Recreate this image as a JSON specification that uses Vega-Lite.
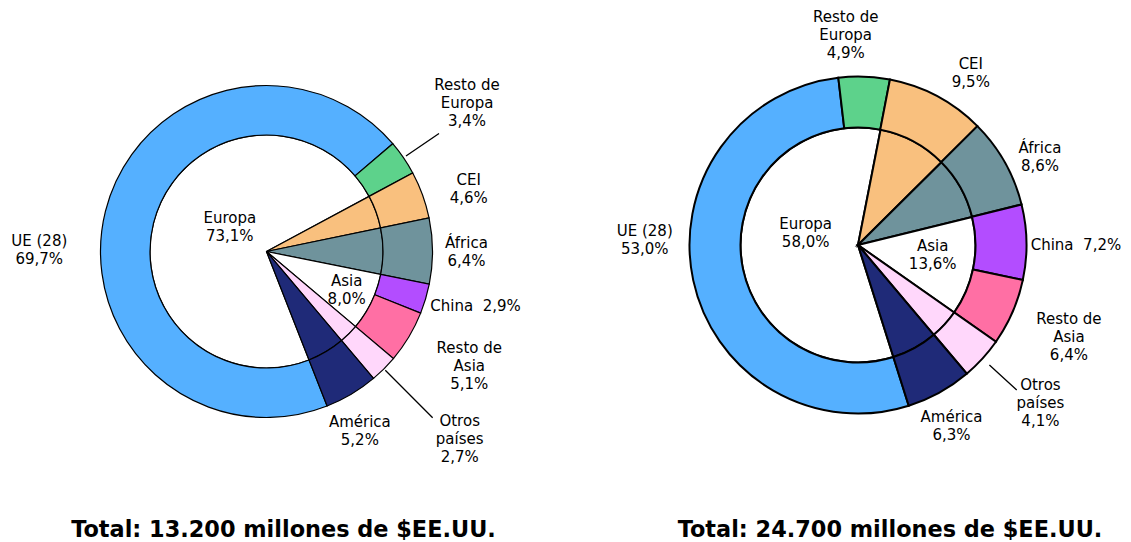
{
  "$schema": "https://vega.github.io/schema/vega-lite/v6.json",
  "padding": 0,
  "spacing": 52,
  "config": {"view": {"stroke": null}},
  "resolve": {"scale": {"theta": "independent"}},
  "datasets": {
    "leftOuter": [
      {"i": 1, "cat": "UE (28)", "v": 69.7, "label": "UE (28)\n69,7%"},
      {"i": 2, "cat": "Resto de Europa", "v": 3.4, "label": "Resto de\nEuropa\n3,4%"},
      {"i": 3, "cat": "CEI", "v": 4.6, "label": "CEI\n4,6%"},
      {"i": 4, "cat": "África", "v": 6.4, "label": "África\n6,4%"},
      {"i": 5, "cat": "China", "v": 2.9, "label": "China\u00a0 2,9%"},
      {"i": 6, "cat": "Resto de Asia", "v": 5.1, "label": "Resto de\nAsia\n5,1%"},
      {"i": 7, "cat": "Otros países", "v": 2.7, "label": "Otros\npaíses\n2,7%"},
      {"i": 8, "cat": "América", "v": 5.2, "label": "América\n5,2%"}
    ],
    "leftInner": [
      {"i": 1, "cat": "Europa", "v": 73.1, "label": "Europa\n73,1%"},
      {"i": 2, "cat": "CEI", "v": 4.6, "label": ""},
      {"i": 3, "cat": "África", "v": 6.4, "label": ""},
      {"i": 4, "cat": "Asia", "v": 8.0, "label": "Asia\n8,0%"},
      {"i": 5, "cat": "Otros países", "v": 2.7, "label": ""},
      {"i": 6, "cat": "América", "v": 5.2, "label": ""}
    ],
    "rightOuter": [
      {"i": 1, "cat": "UE (28)", "v": 53.0, "label": "UE (28)\n53,0%"},
      {"i": 2, "cat": "Resto de Europa", "v": 4.9, "label": "Resto de\nEuropa\n4,9%"},
      {"i": 3, "cat": "CEI", "v": 9.5, "label": "CEI\n9,5%"},
      {"i": 4, "cat": "África", "v": 8.6, "label": "África\n8,6%"},
      {"i": 5, "cat": "China", "v": 7.2, "label": "China\u00a0 7,2%"},
      {"i": 6, "cat": "Resto de Asia", "v": 6.4, "label": "Resto de\nAsia\n6,4%"},
      {"i": 7, "cat": "Otros países", "v": 4.1, "label": "Otros\npaíses\n4,1%"},
      {"i": 8, "cat": "América", "v": 6.3, "label": "América\n6,3%"}
    ],
    "rightInner": [
      {"i": 1, "cat": "Europa", "v": 58.0, "label": "Europa\n58,0%"},
      {"i": 2, "cat": "CEI", "v": 9.5, "label": ""},
      {"i": 3, "cat": "África", "v": 8.6, "label": ""},
      {"i": 4, "cat": "Asia", "v": 13.6, "label": "Asia\n13,6%"},
      {"i": 5, "cat": "Otros países", "v": 4.1, "label": ""},
      {"i": 6, "cat": "América", "v": 6.3, "label": ""}
    ]
  },
  "hconcat": [
    {
      "width": 533,
      "height": 503,
      "title": {"text": "Total: 13.200 millones de $EE.UU.", "orient": "bottom", "anchor": "middle", "dx": 17, "offset": 16, "fontSize": 22.4, "font": "DejaVu Sans", "fontWeight": "bold", "color": "black", "baseline": "top"},
      "layer": [
        {
          "data": {"name": "leftInner"},
          "mark": {"type": "arc", "innerRadius": 0, "outerRadius": 116.5, "stroke": "black", "strokeWidth": 1.2},
          "encoding": {
            "theta": {"field": "v", "type": "quantitative", "stack": "normalize", "scale": {"domain": [0, 1], "range": [2.768, 9.051]}},
            "order": {"field": "i", "type": "quantitative"},
            "color": {"field": "cat", "type": "nominal", "legend": null,
              "scale": {"domain": ["UE (28)", "Resto de Europa", "CEI", "África", "China", "Resto de Asia", "Otros países", "América", "Europa", "Asia"],
                        "range": ["#55B0FF", "#5DD28B", "#F9C07E", "#6F939C", "#B34DFF", "#FF6FA4", "#FFD7FB", "#1F2A78", "#FFFFFF", "#FFFFFF"]}}
          }
        },
        {
          "data": {"name": "leftOuter"},
          "mark": {"type": "arc", "innerRadius": 116.5, "outerRadius": 166, "stroke": "black", "strokeWidth": 1.2},
          "encoding": {
            "theta": {"field": "v", "type": "quantitative", "stack": "normalize", "scale": {"domain": [0, 1], "range": [2.768, 9.051]}},
            "order": {"field": "i", "type": "quantitative"},
            "color": {"field": "cat", "type": "nominal", "legend": null}
          }
        },
        {
          "data": {"name": "leftOuter"},
          "mark": {"type": "arc", "innerRadius": 169, "outerRadius": 209, "padAngle": 1.5, "fill": "white", "fillOpacity": 0, "stroke": "black", "strokeWidth": 1.3},
          "encoding": {
            "theta": {"field": "v", "type": "quantitative", "stack": "normalize", "scale": {"domain": [0, 1], "range": [2.768, 9.051]}},
            "order": {"field": "i", "type": "quantitative"},
            "strokeOpacity": {"condition": {"test": "datum.i == 2", "value": 1}, "value": 0}
          }
        },
        {
          "data": {"name": "leftOuter"},
          "mark": {"type": "arc", "innerRadius": 168, "outerRadius": 235, "padAngle": 1.5, "fill": "white", "fillOpacity": 0, "stroke": "black", "strokeWidth": 1.3},
          "encoding": {
            "theta": {"field": "v", "type": "quantitative", "stack": "normalize", "scale": {"domain": [0, 1], "range": [2.768, 9.051]}},
            "order": {"field": "i", "type": "quantitative"},
            "strokeOpacity": {"condition": {"test": "datum.i == 7", "value": 1}, "value": 0}
          }
        },
        {
          "data": {"name": "leftOuter"},
          "mark": {"type": "text", "font": "DejaVu Sans", "fontSize": 15, "lineHeight": 18, "lineBreak": "\n", "fill": "black", "align": "center", "baseline": "middle",
            "radius": {"expr": "datum.i==1?227:datum.i==2?249:datum.i==3?212:datum.i==4?200:datum.i==5?216:datum.i==6?233:datum.i==7?269:202"},
            "dx": {"expr": "datum.i==1?-7:datum.i==2?-5:datum.i==3?3:datum.i==4?0:datum.i==5?2:datum.i==6?3:datum.i==7?3:-10"},
            "dy": {"expr": "datum.i==1?45:datum.i==2?-26:datum.i==3?1:datum.i==4?-7.5:datum.i==5?-7:datum.i==6?-23.5:datum.i==7?-21:-3"}},
          "encoding": {
            "theta": {"field": "v", "type": "quantitative", "stack": "normalize", "scale": {"domain": [0, 1], "range": [2.768, 9.051]}},
            "order": {"field": "i", "type": "quantitative"},
            "text": {"field": "label", "type": "nominal"}
          }
        },
        {
          "data": {"name": "leftInner"},
          "mark": {"type": "text", "font": "DejaVu Sans", "fontSize": 15, "lineHeight": 18, "lineBreak": "\n", "fill": "black", "align": "center", "baseline": "middle",
            "radius": {"expr": "datum.i==1?44:89"},
            "dx": {"expr": "datum.i==1?4.6:0"},
            "dy": {"expr": "datum.i==1?-18:-9"}},
          "encoding": {
            "theta": {"field": "v", "type": "quantitative", "stack": "normalize", "scale": {"domain": [0, 1], "range": [2.768, 9.051]}},
            "order": {"field": "i", "type": "quantitative"},
            "text": {"field": "label", "type": "nominal"}
          }
        }
      ]
    },
    {
      "width": 546,
      "height": 490,
      "title": {"text": "Total: 24.700 millones de $EE.UU.", "orient": "bottom", "anchor": "middle", "dx": 32, "offset": 29, "fontSize": 22.4, "font": "DejaVu Sans", "fontWeight": "bold", "color": "black", "baseline": "top"},
      "layer": [
        {
          "data": {"name": "rightInner"},
          "mark": {"type": "arc", "innerRadius": 0, "outerRadius": 117.5, "stroke": "black", "strokeWidth": 2},
          "encoding": {
            "theta": {"field": "v", "type": "quantitative", "stack": "normalize", "scale": {"domain": [0, 1], "range": [2.836, 9.119]}},
            "order": {"field": "i", "type": "quantitative"},
            "color": {"field": "cat", "type": "nominal", "legend": null}
          }
        },
        {
          "data": {"name": "rightOuter"},
          "mark": {"type": "arc", "innerRadius": 117.5, "outerRadius": 168.5, "stroke": "black", "strokeWidth": 2},
          "encoding": {
            "theta": {"field": "v", "type": "quantitative", "stack": "normalize", "scale": {"domain": [0, 1], "range": [2.836, 9.119]}},
            "order": {"field": "i", "type": "quantitative"},
            "color": {"field": "cat", "type": "nominal", "legend": null}
          }
        },
        {
          "data": {"name": "rightOuter"},
          "mark": {"type": "arc", "innerRadius": 178, "outerRadius": 215, "padAngle": 1.5, "fill": "white", "fillOpacity": 0, "stroke": "black", "strokeWidth": 1.3},
          "encoding": {
            "theta": {"field": "v", "type": "quantitative", "stack": "normalize", "scale": {"domain": [0, 1], "range": [2.836, 9.119]}},
            "order": {"field": "i", "type": "quantitative"},
            "strokeOpacity": {"condition": {"test": "datum.i == 7", "value": 1}, "value": 0}
          }
        },
        {
          "data": {"name": "rightOuter"},
          "mark": {"type": "text", "font": "DejaVu Sans", "fontSize": 15, "lineHeight": 18, "lineBreak": "\n", "fill": "black", "align": "center", "baseline": "middle",
            "radius": {"expr": "datum.i==1?213:datum.i==2?210:datum.i==3?205:datum.i==4?202:datum.i==5?218:datum.i==6?230:datum.i==7?241:204"},
            "dx": {"expr": "datum.i==1?-5:datum.i==2?-20:datum.i==3?16.5:datum.i==4?6:datum.i==5?0:datum.i==6?0:datum.i==7?4.5:-5"},
            "dy": {"expr": "datum.i==1?-59:datum.i==2?-18:datum.i==3?0:datum.i==4?2:datum.i==5?3.5:datum.i==6?-18:datum.i==7?-23:-6.5"}},
          "encoding": {
            "theta": {"field": "v", "type": "quantitative", "stack": "normalize", "scale": {"domain": [0, 1], "range": [2.836, 9.119]}},
            "order": {"field": "i", "type": "quantitative"},
            "text": {"field": "label", "type": "nominal"}
          }
        },
        {
          "data": {"name": "rightInner"},
          "mark": {"type": "text", "font": "DejaVu Sans", "fontSize": 15, "lineHeight": 18, "lineBreak": "\n", "fill": "black", "align": "center", "baseline": "middle",
            "radius": {"expr": "datum.i==1?54:76"},
            "dx": {"expr": "datum.i==1?1.6:0"},
            "dy": {"expr": "datum.i==1?-24:-13.4"}},
          "encoding": {
            "theta": {"field": "v", "type": "quantitative", "stack": "normalize", "scale": {"domain": [0, 1], "range": [2.836, 9.119]}},
            "order": {"field": "i", "type": "quantitative"},
            "text": {"field": "label", "type": "nominal"}
          }
        }
      ]
    }
  ]
}
